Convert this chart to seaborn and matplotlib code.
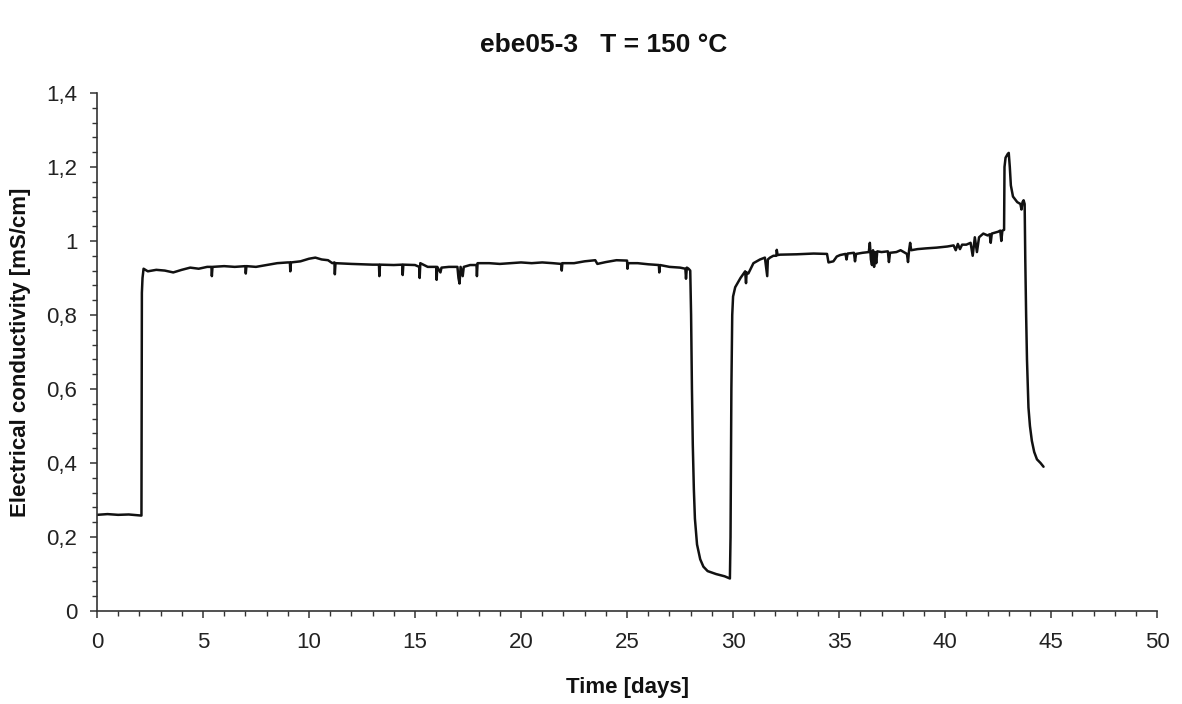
import matplotlib
matplotlib.use("Agg")
import matplotlib.pyplot as plt
from matplotlib.ticker import MultipleLocator
import numpy as np
import pandas as pd
import seaborn as sns

# ---------------- data ----------------
t_start = [0.0, 0.5, 1.0, 1.5, 2.05, 2.1]
c_start = [0.260, 0.262, 0.260, 0.261, 0.258, 0.258]

t_plateau1 = [2.12, 2.15, 2.2, 2.4, 2.8, 3.2, 3.6, 4.0, 4.4, 4.8, 5.2, 5.4, 5.42, 5.45,
              6.0, 6.5, 7.0, 7.02, 7.05, 7.5, 8.0, 8.5, 9.0, 9.1, 9.12, 9.15, 9.6, 10.0,
              10.3, 10.6, 10.9, 11.1, 11.2, 11.22, 11.25, 12.0, 13.0, 13.3, 13.32, 13.35,
              14.0, 14.4, 14.42, 14.45, 15.0, 15.2, 15.22, 15.25, 15.6, 16.0, 16.02, 16.05,
              16.2, 16.25, 16.6, 17.0, 17.05, 17.1, 17.15, 17.25, 17.3, 17.6, 17.9, 17.92,
              17.95, 18.5, 19.0, 19.5, 20.0, 20.5, 21.0, 21.5, 21.9, 21.92, 21.95, 22.5,
              23.0, 23.5, 23.6, 24.0, 24.5, 25.0, 25.02, 25.05, 25.5, 26.0, 26.5, 26.52,
              26.55, 27.0, 27.5, 27.75, 27.78, 27.82, 27.9, 27.98]
c_plateau1 = [0.86, 0.90, 0.925, 0.918, 0.922, 0.920, 0.915, 0.922, 0.928, 0.925, 0.930, 0.930, 0.905, 0.930,
              0.932, 0.930, 0.932, 0.912, 0.932, 0.930, 0.935, 0.940, 0.942, 0.942, 0.918, 0.942, 0.945, 0.952,
              0.955, 0.950, 0.948, 0.940, 0.942, 0.910, 0.940, 0.938, 0.936, 0.936, 0.905, 0.936,
              0.935, 0.936, 0.908, 0.936, 0.935, 0.930, 0.900, 0.940, 0.930, 0.930, 0.895, 0.930,
              0.915, 0.928, 0.930, 0.930, 0.900, 0.885, 0.930, 0.905, 0.930, 0.935, 0.935, 0.905,
              0.940, 0.940, 0.938, 0.940, 0.942, 0.940, 0.942, 0.940, 0.938, 0.920, 0.940, 0.940,
              0.945, 0.948, 0.938, 0.943, 0.948, 0.947, 0.925, 0.940, 0.940, 0.937, 0.935, 0.915,
              0.935, 0.930, 0.928, 0.925, 0.898, 0.928, 0.925, 0.920]

t_dip = [28.02, 28.06, 28.10, 28.15, 28.20, 28.30, 28.45, 28.60, 28.80, 29.20, 29.60, 29.85]
c_dip = [0.80, 0.60, 0.45, 0.33, 0.25, 0.18, 0.14, 0.12, 0.108, 0.100, 0.094, 0.088]

t_plateau2 = [29.88, 29.92, 29.96, 30.00, 30.10, 30.20, 30.35, 30.57, 30.61, 30.64, 30.72, 30.96,
              31.27, 31.50, 31.61, 31.64, 31.74, 31.90, 32.04, 32.06, 32.10, 32.22, 33.00, 33.80,
              34.43, 34.50, 34.73, 34.89, 35.05, 35.30, 35.35, 35.40, 35.70, 35.75, 35.80, 36.10,
              36.40, 36.45, 36.50, 36.55, 36.60, 36.65, 36.70, 36.75, 36.80, 37.00, 37.30, 37.35,
              37.40, 37.70, 37.90, 38.20, 38.25, 38.30, 38.35, 38.40, 38.70, 39.10, 39.60, 40.10,
              40.40, 40.50, 40.60, 40.70, 40.80, 41.00, 41.20, 41.30, 41.40, 41.50, 41.60, 41.80,
              42.00, 42.10, 42.15, 42.20, 42.50, 42.60, 42.65, 42.70, 42.78]
c_plateau2 = [0.20, 0.60, 0.80, 0.85, 0.875, 0.885, 0.900, 0.918, 0.886, 0.915, 0.912, 0.940,
              0.950, 0.955, 0.905, 0.950, 0.955, 0.960, 0.960, 0.976, 0.962, 0.963, 0.964, 0.966,
              0.965, 0.942, 0.945, 0.958, 0.962, 0.965, 0.950, 0.966, 0.968, 0.945, 0.965, 0.968,
              0.970, 0.995, 0.950, 0.935, 0.975, 0.930, 0.970, 0.940, 0.972, 0.970, 0.972, 0.943,
              0.968, 0.970, 0.975, 0.965, 0.943, 0.975, 0.995, 0.975, 0.978, 0.980, 0.982, 0.985,
              0.988, 0.975, 0.992, 0.978, 0.990, 0.990, 0.995, 0.960, 1.010, 0.970, 1.010, 1.020,
              1.015, 1.018, 0.995, 1.020, 1.025, 1.028, 1.000, 1.028, 1.030]

t_peak = [42.80, 42.85, 42.95, 43.00, 43.05, 43.10, 43.20, 43.40, 43.55, 43.60, 43.65, 43.70,
          43.75, 43.78, 43.82, 43.86, 43.93, 44.00, 44.09, 44.20, 44.33, 44.50, 44.64]
c_peak = [1.20, 1.225, 1.235, 1.238, 1.20, 1.15, 1.12, 1.105, 1.100, 1.085, 1.105, 1.110,
          1.100, 0.95, 0.80, 0.68, 0.55, 0.50, 0.46, 0.43, 0.41, 0.40, 0.39]

x_ticks = [0, 5, 10, 15, 20, 25, 30, 35, 40, 45, 50]
x_tick_labels = ["0", "5", "10", "15", "20", "25", "30", "35", "40", "45", "50"]
y_ticks = [0, 0.2, 0.4, 0.6, 0.8, 1.0, 1.2, 1.4]
y_tick_labels = ["0", "0,2", "0,4", "0,6", "0,8", "1", "1,2", "1,4"]

title_text = "ebe05-3   T = 150 °C"
x_label = "Time [days]"
y_label = "Electrical conductivity [mS/cm]"

# ---------------- build frame ----------------
df = pd.DataFrame({
    "time": t_start + t_plateau1 + t_dip + t_plateau2 + t_peak,
    "cond": c_start + c_plateau1 + c_dip + c_plateau2 + c_peak,
})

sns.set_theme(style="ticks")
plt.rcParams["font.family"] = ["Liberation Sans", "DejaVu Sans"]

fig = plt.figure(figsize=(11.82, 7.04), dpi=100)
ax = fig.add_axes([0.082, 0.132, 0.897, 0.736])

sns.lineplot(data=df, x="time", y="cond", ax=ax, color="#111111",
             linewidth=1.8, estimator=None, sort=False)

ax.set_xlim(0, 50)
ax.set_ylim(0, 1.4)
ax.set_xticks(x_ticks)
ax.set_xticklabels(x_tick_labels)
ax.set_yticks(y_ticks)
ax.set_yticklabels(y_tick_labels)
ax.xaxis.set_minor_locator(MultipleLocator(1))
ax.yaxis.set_minor_locator(MultipleLocator(0.04))

for s in ["top", "right"]:
    ax.spines[s].set_visible(False)
for s in ["left", "bottom"]:
    ax.spines[s].set_color("#333333")
    ax.spines[s].set_linewidth(1.2)

ax.tick_params(axis="both", which="major", direction="out", length=5, width=1.1,
               color="#333333", labelsize=16, labelcolor="#222222")
ax.tick_params(axis="both", which="minor", direction="out", length=3.5, width=1.0,
               color="#333333")
ax.tick_params(axis="x", which="major", pad=10)
ax.tick_params(axis="y", which="major", pad=9)

ax.set_xlabel(x_label, fontweight="bold", fontsize=16, labelpad=17, color="#111111")
ax.set_ylabel(y_label, fontweight="bold", fontsize=16, labelpad=11, color="#111111")
fig.text(0.511, 0.936, title_text, ha="center", va="center", fontweight="bold",
         fontsize=19, color="#111111")

fig.savefig("out.png", dpi=100)
